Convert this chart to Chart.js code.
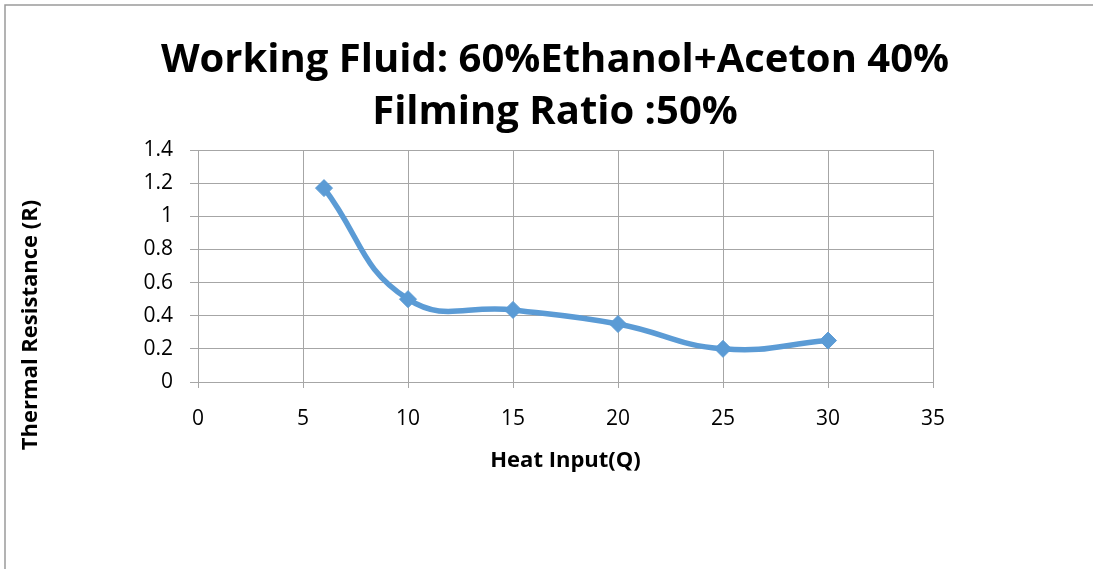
<!DOCTYPE html>
<html>
<head>
<meta charset="utf-8">
<script src="https://cdn.jsdelivr.net/npm/chart.js@4"></script>
<style>
  html, body { margin: 0; padding: 0; background: #fff; }
  #wrap { position: relative; width: 1093px; height: 569px; }
</style>
</head>
<body>
<div id="wrap"><canvas id="chart" width="1093" height="569"></canvas></div>
<script>
// data
const heatInput = [6, 10, 15, 20, 25, 30];
const resistance = [1.17, 0.50, 0.435, 0.35, 0.20, 0.25];
const titleLines = ['Working Fluid: 60%Ethanol+Aceton 40%', 'Filming Ratio :50%'];
const xTitle = 'Heat Input(Q)';
const yTitle = 'Thermal Resistance (R)';

const FONT = "'Open Sans', 'Liberation Sans', sans-serif";
const GRID = '#a6a6a6';

// title, y axis title and the frame are drawn by hand
const decor = {
    id: 'decor',
    beforeDraw(chart){
        let ctx = chart.ctx;
        ctx.save();
        ctx.fillStyle = '#fff';
        ctx.fillRect(0, 0, chart.width, chart.height);
        ctx.strokeStyle = '#9a9a9a';
        ctx.lineWidth = 1.5;
        ctx.beginPath();
        ctx.moveTo(5, chart.height);
        ctx.lineTo(5, 5);
        ctx.lineTo(chart.width, 5);
        ctx.stroke();
        ctx.restore();
    },
    afterDraw(chart){
        let ctx = chart.ctx;
        ctx.save();
        ctx.fillStyle = '#000';
        ctx.textAlign = 'center';
        ctx.textBaseline = 'alphabetic';
        ctx.font = "bold 40px " + FONT;
        ctx.fillText(titleLines[0], 555, 72);
        ctx.fillText(titleLines[1], 555, 124);
        ctx.translate(31, 325);
        ctx.rotate(-Math.PI / 2);
        ctx.textBaseline = 'middle';
        ctx.font = "bold 22px " + FONT;
        ctx.fillText(yTitle, 0, 0);
        ctx.restore();
    }
};

let points = heatInput.map(function(x, i){ return {x: x, y: resistance[i]}; });

new Chart(document.getElementById('chart'), {
    type: 'line',
    data: {
        datasets: [{
            data: points,
            borderColor: '#5b9bd5',
            backgroundColor: '#5b9bd5',
            borderWidth: 5.5,
            tension: 0.45,
            pointStyle: 'rectRot',
            pointRadius: 8.5,
            pointHoverRadius: 8.5,
            pointBorderWidth: 1
        }]
    },
    options: {
        responsive: false,
        animation: false,
        layout: {padding: {top: 150, right: 160, left: 0, bottom: 0}},
        plugins: {legend: {display: false}, tooltip: {enabled: false}, title: {display: false}},
        scales: {
            x: {
                type: 'linear',
                min: 0, max: 35,
                ticks: {stepSize: 5, color: '#000', font: {family: FONT, size: 21}, padding: 18},
                grid: {color: GRID, lineWidth: 1, tickLength: 6},
                border: {color: GRID},
                title: {display: true, text: xTitle, color: '#000', font: {family: FONT, size: 22, weight: 'bold'}, padding: {top: 0, bottom: 95}},
                afterFit(scale){ scale.height = 187; }
            },
            y: {
                min: 0, max: 1.4,
                ticks: {
                    stepSize: 0.2, color: '#000', font: {family: FONT, size: 21}, padding: 17,
                    callback: function(v){ return String(Math.round(v * 10) / 10); }
                },
                grid: {color: GRID, lineWidth: 1, tickLength: 8},
                border: {color: GRID},
                afterFit(scale){ scale.width = 198; }
            }
        }
    },
    plugins: [decor]
});
</script>
</body>
</html>
